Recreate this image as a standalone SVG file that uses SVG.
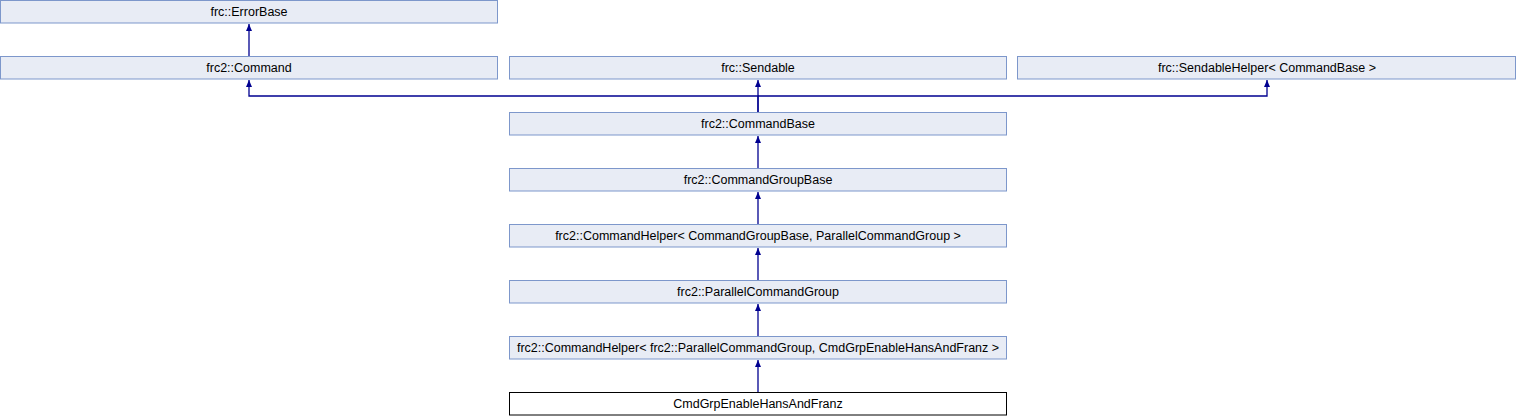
<svg xmlns="http://www.w3.org/2000/svg" width="1517" height="416" viewBox="0 0 1517 416">
<style>
.box{fill:#E8ECF5;stroke:#7D97CB;stroke-width:1}
.main{fill:#FFFFFF;stroke:#000000;stroke-width:1}
.lbl{font-family:"Liberation Sans",Arial,sans-serif;font-size:12.5px;fill:#000;text-anchor:middle}
.edge{fill:none;stroke:#000090;stroke-width:1.3}
</style>
<defs>
<marker id="ah" viewBox="0 0 6 7" refX="3" refY="0" markerWidth="6" markerHeight="7" markerUnits="userSpaceOnUse" orient="0">
<path d="M0,7 L3,0 L6,7 Z" fill="#000090"/>
</marker>
</defs>
<g id="connectors">
<path class="edge" d="M249,56 V24" marker-end="url(#ah)"/>
<path class="edge" d="M758,112 V96 H249 V80" marker-end="url(#ah)"/>
<path class="edge" d="M758,112 V80" marker-end="url(#ah)"/>
<path class="edge" d="M758,96 H1267 V80" marker-end="url(#ah)"/>
<path class="edge" d="M758,168 V136" marker-end="url(#ah)"/>
<path class="edge" d="M758,224 V192" marker-end="url(#ah)"/>
<path class="edge" d="M758,280 V248" marker-end="url(#ah)"/>
<path class="edge" d="M758,336 V304" marker-end="url(#ah)"/>
<path class="edge" d="M758,392 V360" marker-end="url(#ah)"/>
</g>
<g id="n_errorbase"><rect class="box" x="0.5" y="0.5" width="497" height="22.5"/><text class="lbl" x="249" y="16">frc::ErrorBase</text></g>
<g id="n_command"><rect class="box" x="0.5" y="56.5" width="497" height="22.5"/><text class="lbl" x="249" y="72">frc2::Command</text></g>
<g id="n_sendable"><rect class="box" x="509.5" y="56.5" width="497" height="22.5"/><text class="lbl" x="758" y="72">frc::Sendable</text></g>
<g id="n_sendablehelper"><rect class="box" x="1017.5" y="56.5" width="498" height="22.5"/><text class="lbl" x="1267" y="72">frc::SendableHelper&lt; CommandBase &gt;</text></g>
<g id="n_commandbase"><rect class="box" x="509.5" y="112.5" width="497" height="22.5"/><text class="lbl" x="758" y="128">frc2::CommandBase</text></g>
<g id="n_commandgroupbase"><rect class="box" x="509.5" y="168.5" width="497" height="22.5"/><text class="lbl" x="758" y="184">frc2::CommandGroupBase</text></g>
<g id="n_helper1"><rect class="box" x="509.5" y="224.5" width="497" height="22.5"/><text class="lbl" x="758" y="240">frc2::CommandHelper&lt; CommandGroupBase, ParallelCommandGroup &gt;</text></g>
<g id="n_parallel"><rect class="box" x="509.5" y="280.5" width="497" height="22.5"/><text class="lbl" x="758" y="296">frc2::ParallelCommandGroup</text></g>
<g id="n_helper2"><rect class="box" x="509.5" y="336.5" width="497" height="22.5"/><text class="lbl" x="758" y="352">frc2::CommandHelper&lt; frc2::ParallelCommandGroup, CmdGrpEnableHansAndFranz &gt;</text></g>
<g id="n_cmdgrp"><rect class="main" x="509.5" y="392.5" width="497" height="22.5"/><text class="lbl" x="758" y="408">CmdGrpEnableHansAndFranz</text></g>
</svg>
